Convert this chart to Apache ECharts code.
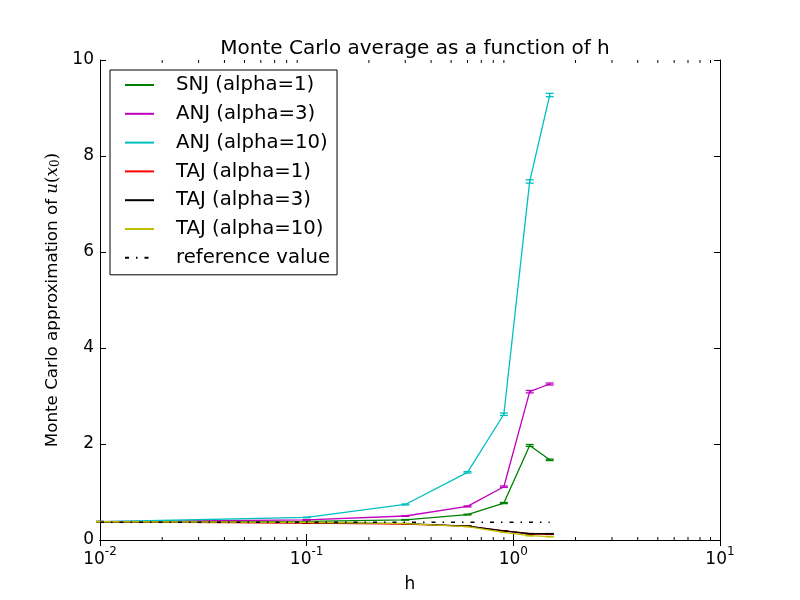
<!DOCTYPE html>
<html>
<head>
<meta charset="utf-8">
<script src="https://cdn.jsdelivr.net/npm/echarts@6/dist/echarts.min.js"></script>
<style>
  html, body { margin: 0; padding: 0; background: #fff; }
  #chart { width: 800px; height: 600px; }
</style>
</head>
<body>
<div id="chart"></div>
<script>
// step sizes h
const hValues = [0.01, 0.1, 0.3, 0.6, 0.9, 1.2, 1.5];

// Monte Carlo averages
const snj1 = [0.38, 0.39, 0.42, 0.53, 0.77, 1.97, 1.67];
const anj3 = [0.38, 0.42, 0.50, 0.70, 1.11, 3.09, 3.25];
const anj10 = [0.38, 0.47, 0.74, 1.41, 2.62, 7.47, 9.27];
const taj1 = [0.38, 0.35, 0.33, 0.29, 0.19, 0.13, 0.12];
const taj3 = [0.38, 0.36, 0.34, 0.29, 0.19, 0.13, 0.13];
const taj10 = [0.38, 0.37, 0.34, 0.28, 0.16, 0.09, 0.07];
const refValue = [0.37, 0.37, 0.37, 0.37, 0.37, 0.37, 0.37];

// error bar half widths
const snj1Err = [0.005, 0.005, 0.006, 0.008, 0.012, 0.02, 0.015];
const anj3Err = [0.005, 0.005, 0.006, 0.01, 0.015, 0.025, 0.02];
const anj10Err = [0.005, 0.006, 0.01, 0.015, 0.025, 0.035, 0.035];
const taj1Err = [0.004, 0.004, 0.004, 0.004, 0.004, 0.004, 0.004];
const taj3Err = [0.004, 0.004, 0.004, 0.004, 0.004, 0.004, 0.004];
const taj10Err = [0.004, 0.004, 0.004, 0.004, 0.004, 0.004, 0.004];

const yTicks = [0, 2, 4, 6, 8, 10];
const minorTicks = [0.02, 0.03, 0.04, 0.05, 0.06, 0.07, 0.08, 0.09,
  0.2, 0.3, 0.4, 0.5, 0.6, 0.7, 0.8, 0.9,
  2, 3, 4, 5, 6, 7, 8, 9];

const FONT = 'DejaVu Sans';

const lines = [
  { name: 'SNJ (alpha=1)', values: snj1, err: snj1Err, color: '#008000' },
  { name: 'ANJ (alpha=3)', values: anj3, err: anj3Err, color: '#bf00bf' },
  { name: 'ANJ (alpha=10)', values: anj10, err: anj10Err, color: '#00bfbf' },
  { name: 'TAJ (alpha=1)', values: taj1, err: taj1Err, color: '#ff0000' },
  { name: 'TAJ (alpha=3)', values: taj3, err: taj3Err, color: '#000000' },
  { name: 'TAJ (alpha=10)', values: taj10, err: taj10Err, color: '#bfbf00' }
];

function errorBars(color) {
  return function (params, api) {
    const x = api.value(0), y = api.value(1), e = api.value(2);
    const lo = api.coord([x, y - e]);
    const hi = api.coord([x, y + e]);
    const w = 4;
    const style = { stroke: color, lineWidth: 1.3 };
    return {
      type: 'group',
      children: [
        { type: 'line', shape: { x1: lo[0], y1: lo[1], x2: hi[0], y2: hi[1] }, style },
        { type: 'line', shape: { x1: lo[0] - w, y1: lo[1], x2: lo[0] + w, y2: lo[1] }, style },
        { type: 'line', shape: { x1: hi[0] - w, y1: hi[1], x2: hi[0] + w, y2: hi[1] }, style }
      ]
    };
  };
}

const series = [];
lines.forEach(l => {
  series.push({
    name: l.name,
    type: 'line',
    data: hValues.map((h, i) => [h, l.values[i]]),
    symbol: 'none',
    legendIcon: 'none',
    lineStyle: { color: l.color, width: 1.3 },
    itemStyle: { color: l.color },
    animation: false
  });
});
lines.forEach(l => {
  series.push({
    type: 'custom',
    data: hValues.map((h, i) => [h, l.values[i], l.err[i]]),
    renderItem: errorBars(l.color),
    silent: true,
    animation: false
  });
});
series.push({
  name: 'reference value',
  type: 'line',
  data: hValues.map((h, i) => [h, refValue[i]]),
  symbol: 'none',
  legendIcon: 'none',
  lineStyle: { color: '#000', width: 1.3, type: [4, 7, 1.5, 7] },
  itemStyle: { color: '#000' },
  animation: false
});
// matplotlib-style minor ticks on the log axis (bottom and top)
series.push({
  type: 'custom',
  data: minorTicks.map(v => [v]),
  silent: true,
  clip: false,
  animation: false,
  renderItem: function (params, api) {
    const x = api.value(0);
    const b = api.coord([x, 0]);
    const t = api.coord([x, 10]);
    const style = { stroke: '#000', lineWidth: 1 };
    return {
      type: 'group',
      children: [
        { type: 'line', shape: { x1: b[0], y1: b[1], x2: b[0], y2: b[1] - 3 }, style },
        { type: 'line', shape: { x1: t[0], y1: t[1], x2: t[0], y2: t[1] + 3 }, style }
      ]
    };
  }
});

const chart = echarts.init(document.getElementById('chart'));
chart.setOption({
  backgroundColor: '#fff',
  animation: false,
  textStyle: { fontFamily: FONT },
  title: {
    text: 'Monte Carlo average as a function of h',
    left: 410,
    top: 34,
    textAlign: 'center',
    textStyle: { fontFamily: FONT, fontSize: 20, fontWeight: 'normal', color: '#000' }
  },
  legend: {
    orient: 'vertical',
    left: 110,
    top: 70,
    data: lines.map(l => l.name).concat(['reference value']),
    backgroundColor: '#fff',
    borderColor: '#000',
    borderWidth: 1,
    borderRadius: 0,
    padding: [5, 7, 7, 14],
    itemWidth: 29,
    itemHeight: 20,
    itemGap: 8.8,
    selectedMode: false,
    itemStyle: { opacity: 0 },
    textStyle: { fontFamily: FONT, fontSize: 19.7, color: '#000', padding: [0, 0, 0, 17] }
  },
  grid: { left: 100, right: 80, top: 60, bottom: 60, containLabel: false },
  xAxis: [
    {
      type: 'log',
      logBase: 10,
      min: 0.01,
      max: 10,
      name: 'h',
      nameLocation: 'middle',
      nameGap: 36,
      nameTextStyle: { fontFamily: FONT, fontSize: 17, color: '#000' },
      axisLine: { lineStyle: { color: '#000', width: 1 } },
      axisTick: { inside: true, length: 6, lineStyle: { color: '#000' } },
      splitLine: { show: false },
      axisLabel: {
        margin: 6,
        color: '#000',
        formatter: v => '{b|10}{s|' + Math.round(Math.log10(v)) + '}',
        rich: {
          b: { fontFamily: FONT, fontSize: 17, color: '#000', verticalAlign: 'bottom', lineHeight: 22 },
          s: { fontFamily: FONT, fontSize: 12, color: '#000', verticalAlign: 'top', lineHeight: 22 }
        }
      }
    },
    {
      type: 'log',
      logBase: 10,
      min: 0.01,
      max: 10,
      position: 'top',
      axisLine: { lineStyle: { color: '#000', width: 1 } },
      axisTick: { inside: true, length: 6, lineStyle: { color: '#000' } },
      axisLabel: { show: false },
      splitLine: { show: false }
    }
  ],
  yAxis: [
    {
      type: 'value',
      min: yTicks[0],
      max: yTicks[yTicks.length - 1],
      interval: 2,
      name: '{t|Monte Carlo approximation of }{i|u}{p|(}{i|x}{sub|0}{p|)}',
      nameLocation: 'middle',
      nameGap: 33,
      nameRotate: 90,
      nameTextStyle: {
        rich: {
          t: { fontFamily: FONT, fontSize: 16.7, color: '#000', verticalAlign: 'bottom', lineHeight: 22 },
          i: { fontFamily: 'DejaVu Serif', fontStyle: 'italic', fontSize: 16.7, color: '#000', verticalAlign: 'bottom', lineHeight: 22 },
          p: { fontFamily: 'DejaVu Serif', fontSize: 16.7, color: '#000', verticalAlign: 'bottom', lineHeight: 22 },
          sub: { fontFamily: 'DejaVu Serif', fontSize: 12, color: '#000', verticalAlign: 'bottom', lineHeight: 18 }
        }
      },
      axisLine: { show: true, lineStyle: { color: '#000', width: 1 } },
      axisTick: { show: true, inside: true, length: 6, lineStyle: { color: '#000' } },
      splitLine: { show: false },
      axisLabel: { margin: 6, color: '#000', fontFamily: FONT, fontSize: 17 }
    },
    {
      type: 'value',
      min: yTicks[0],
      max: yTicks[yTicks.length - 1],
      interval: 2,
      position: 'right',
      axisLine: { show: true, lineStyle: { color: '#000', width: 1 } },
      axisTick: { show: true, inside: true, length: 6, lineStyle: { color: '#000' } },
      axisLabel: { show: false },
      splitLine: { show: false }
    }
  ],
  series: series
});
</script>
</body>
</html>
